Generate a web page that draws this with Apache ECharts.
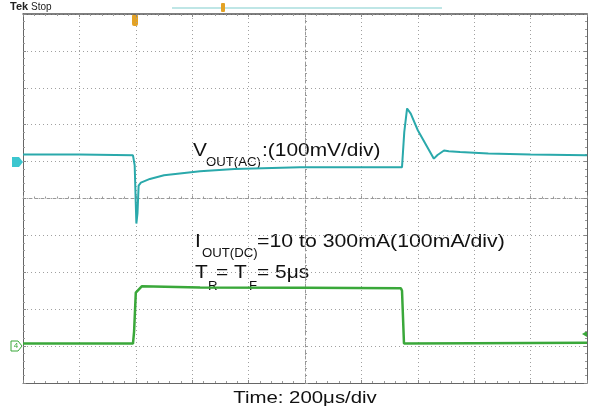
<!DOCTYPE html>
<html>
<head>
<meta charset="utf-8">
<script src="https://cdn.jsdelivr.net/npm/echarts@6/dist/echarts.min.js"></script>
<style>
html,body{margin:0;padding:0;background:#fff;}
#chart{width:595px;height:413px;}
</style>
</head>
<body>
<div id="chart"></div>
<script>
// time in µs (200 µs/div), amplitude in divisions (centre = 0)
var voutTime = [0, 200, 390, 396, 402, 406, 410, 418, 450, 500, 628, 750, 982, 1200, 1344, 1352, 1362, 1375, 1400, 1426, 1457, 1470, 1493, 1510, 1550, 1650, 1800, 2000];
var voutDiv  = [1.19, 1.19, 1.17, 0.9, -0.68, -0.4, 0.35, 0.43, 0.53, 0.63, 0.74, 0.8, 0.85, 0.85, 0.85, 1.8, 2.44, 2.3, 1.85, 1.5, 1.08, 1.18, 1.30, 1.28, 1.26, 1.22, 1.19, 1.17];
var ioutTime = [0, 390, 394, 400, 421, 628, 1000, 1340, 1344, 1351, 1600, 2000];
var ioutDiv  = [-3.93, -3.93, -3.6, -2.55, -2.38, -2.41, -2.42, -2.43, -2.5, -3.93, -3.92, -3.91];
var xMin = 0, xMax = 2000, xStep = 200;
var yMin = -5, yMax = 5, yStep = 1;
var timeLabel = 'Time: 200μs/div';

function pairs(a, b){ return a.map(function(v, i){ return [v, b[i]]; }); }

var chart = echarts.init(document.getElementById('chart'), null, {renderer: 'canvas'});
var FONT = '"Liberation Sans", Arial, sans-serif';
var gridDot = {type: [1, 3], color: '#a0a0a0', width: 1};
function xAx(pos, extra){
  return Object.assign({
    type: 'value', min: xMin, max: xMax, interval: xStep, position: pos,
    axisLine: {onZero: false, lineStyle: {color: '#666', width: 1}},
    axisTick: {show: true, inside: true, length: 3, lineStyle: {color: '#888'}},
    minorTick: {show: true, splitNumber: 5, length: 2, lineStyle: {color: '#999'}},
    axisLabel: {show: false}, splitLine: {show: false}
  }, extra || {});
}
function yAx(pos, extra){
  return Object.assign({
    type: 'value', min: yMin, max: yMax, interval: yStep, position: pos,
    axisLine: {onZero: false, lineStyle: {color: '#666', width: 1}},
    axisTick: {show: true, inside: true, length: 3, lineStyle: {color: '#888'}},
    minorTick: {show: true, splitNumber: 5, length: 2, lineStyle: {color: '#999'}},
    axisLabel: {show: false}, splitLine: {show: false}
  }, extra || {});
}

var option = {
  backgroundColor: '#ffffff',
  animation: false,
  grid: {left: 23, top: 14, width: 564, height: 369, containLabel: false},
  xAxis: [
    xAx('bottom', {splitLine: {show: true, lineStyle: gridDot}}),
    xAx('top', {axisLine: {onZero: false, lineStyle: {color: '#555', width: 1.5}}}),
    xAx('bottom', {offset: -184.5, axisLine: {onZero: false, lineStyle: {color: '#999', type: [3, 3], width: 1}},
                   axisTick: {show: true, inside: true, length: 3, lineStyle: {color: '#999'}}})
  ],
  yAxis: [
    yAx('left', {splitLine: {show: true, lineStyle: gridDot}}),
    yAx('right'),
    yAx('left', {offset: -282, axisLine: {onZero: false, lineStyle: {color: '#999', type: [3, 3], width: 1}},
                 axisTick: {show: true, inside: true, length: 3, lineStyle: {color: '#999'}}})
  ],
  series: [
    {type: 'line', name: 'VOUT', data: pairs(voutTime, voutDiv), symbol: 'none', z: 5,
     lineStyle: {color: '#2aa9ab', width: 2}},
    {type: 'line', name: 'IOUT', data: pairs(ioutTime, ioutDiv), symbol: 'none', z: 5,
     lineStyle: {color: '#3aa83a', width: 2.5}}
  ],
  graphic: [
    {type: 'text', left: 10, top: 1, style: {text: 'Tek', font: 'bold 11px ' + FONT, fill: '#222'}},
    {type: 'text', left: 31, top: 2, style: {text: 'Stop', font: '10px ' + FONT, fill: '#222'}},
    {type: 'rect', shape: {x: 172, y: 7, width: 270, height: 2}, style: {fill: '#bfe6e6'}},
    {type: 'rect', shape: {x: 221, y: 3, width: 4, height: 9, r: 1}, style: {fill: '#e3a225'}},
    {type: 'rect', shape: {x: 132, y: 14, width: 6, height: 12, r: 2}, style: {fill: '#e3a225'}},
    {type: 'polygon', shape: {points: [[12,157],[19,157],[23,162],[19,167],[12,167]]}, style: {fill: '#3cc6cf'}},
    {type: 'polygon', shape: {points: [[11,341],[18,341],[22,346],[18,351],[11,351]]}, style: {fill: '#fff', stroke: '#3aa83a', lineWidth: 1}},
    {type: 'text', x: 16, y: 346, style: {text: '4', font: '8px ' + FONT, fill: '#3aa83a', align: 'center', verticalAlign: 'middle'}},
    {type: 'polygon', shape: {points: [[582,334],[587,331],[587,337]]}, style: {fill: '#3aa83a'}},

    {type: 'text', x: 193, y: 160, scaleX: 1.1, style: {text: 'V', font: '19px ' + FONT, fill: '#111', verticalAlign: 'bottom'}},
    {type: 'text', x: 206, y: 169, scaleX: 1.1, style: {text: 'OUT(AC)', font: '12px ' + FONT, fill: '#111', verticalAlign: 'bottom'}},
    {type: 'text', x: 262, y: 160, scaleX: 1.1, style: {text: ':(100mV/div)', font: '19px ' + FONT, fill: '#111', verticalAlign: 'bottom'}},

    {type: 'text', x: 195, y: 251, scaleX: 1.1, style: {text: 'I', font: '19px ' + FONT, fill: '#111', verticalAlign: 'bottom'}},
    {type: 'text', x: 202, y: 260, scaleX: 1.1, style: {text: 'OUT(DC)', font: '12px ' + FONT, fill: '#111', verticalAlign: 'bottom'}},
    {type: 'text', x: 257, y: 251, scaleX: 1.12, style: {text: '=10 to 300mA(100mA/div)', font: '19px ' + FONT, fill: '#111', verticalAlign: 'bottom'}},

    {type: 'text', x: 195, y: 282, scaleX: 1.1, style: {text: 'T', font: '19px ' + FONT, fill: '#111', verticalAlign: 'bottom'}},
    {type: 'text', x: 208, y: 293, scaleX: 1.1, style: {text: 'R', font: '12px ' + FONT, fill: '#111', verticalAlign: 'bottom'}},
    {type: 'text', x: 216, y: 282, scaleX: 1.1, style: {text: '= T', font: '19px ' + FONT, fill: '#111', verticalAlign: 'bottom'}},
    {type: 'text', x: 249, y: 293, scaleX: 1.1, style: {text: 'F', font: '12px ' + FONT, fill: '#111', verticalAlign: 'bottom'}},
    {type: 'text', x: 257, y: 282, scaleX: 1.1, style: {text: '= 5μs', font: '19px ' + FONT, fill: '#111', verticalAlign: 'bottom'}},

    {type: 'text', x: 305, y: 398, scaleX: 1.2, style: {text: timeLabel, font: '17px ' + FONT, fill: '#111', align: 'center', verticalAlign: 'middle'}}
  ]
};
chart.setOption(option);
</script>
</body>
</html>
